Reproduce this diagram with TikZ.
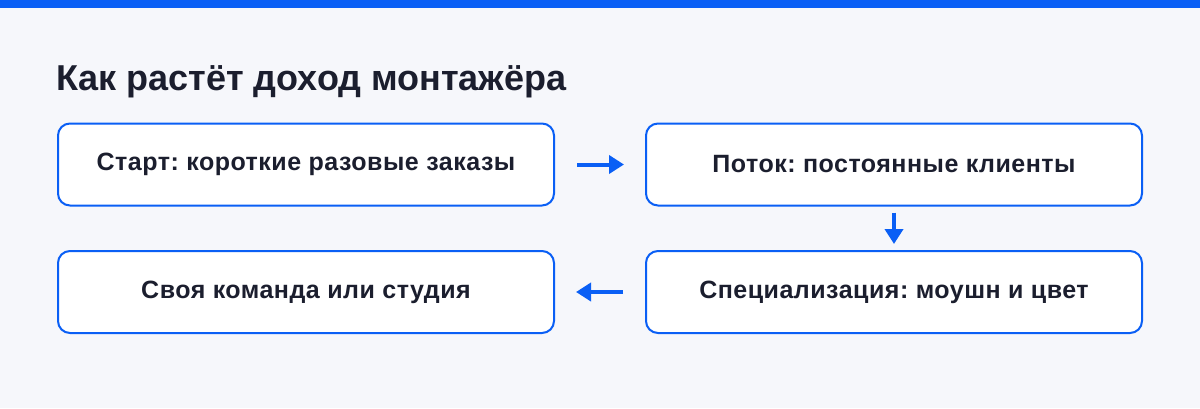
\documentclass[tikz,border=0pt]{standalone}
\usepackage{fontspec}
\setmainfont{Liberation Sans}
\newfontfamily\boxfont[LetterSpace=2]{Liberation Sans}
\usetikzlibrary{arrows.meta}
\definecolor{bg}{HTML}{F6F7FB}
\definecolor{accent}{HTML}{0A5FF5}
\definecolor{ink}{HTML}{1B1E2E}
\frenchspacing
\begin{document}
\begin{tikzpicture}[x=1pt,y=-1pt,
  stepbox/.style={draw=accent,line width=2pt,fill=white,rounded corners=12pt,
    minimum width=496pt,minimum height=82pt,inner sep=0pt,
    font=\boxfont\fontsize{25}{29}\selectfont\bfseries,text=ink},
  flow/.style={draw=accent,line width=4pt,-{Triangle[width=18pt,length=15pt]}}]
\fill[bg] (0,0) rectangle (1200,408);
\useasboundingbox (0,0) rectangle (1200,408);
\fill[accent] (0,0) rectangle (1200,8);
\node[anchor=base west,inner sep=0pt,text=ink,font=\fontsize{36}{42}\selectfont\bfseries] (title) at (56,90) {Как растёт доход монтажёра};
\node[stepbox] (b1) at (306,164.5) {Старт: короткие разовые заказы};
\node[stepbox] (b2) at (894,164.5) {Поток: постоянные клиенты};
\node[stepbox] (b3) at (894,292) {Специализация: моушн и цвет};
\node[stepbox] (b4) at (306,292) {Своя команда или студия};
\draw[flow] ([xshift=22pt]b1.east) -- ([xshift=-21pt]b2.west);
\draw[flow] ([yshift=-6pt]b2.south) -- ([yshift=6pt]b3.north);
\draw[flow] ([xshift=-22pt]b3.west) -- ([xshift=21pt]b4.east);
\end{tikzpicture}
\end{document}
